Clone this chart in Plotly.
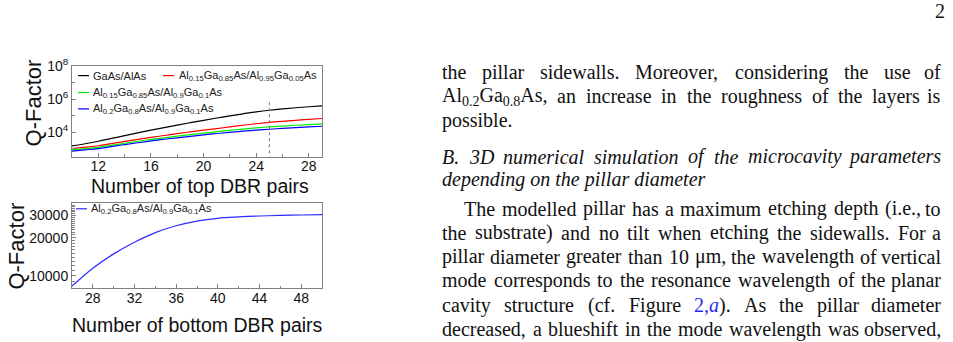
import re
import plotly.graph_objects as go

# ---------------- data ----------------
top_pairs = [10, 11, 12, 13, 14, 15, 16, 17, 18, 19, 20, 21, 22, 23, 24, 25, 26, 27, 28, 29]
q_gaas_alas = [1480, 2000, 2820, 4170, 6170, 9120, 13200, 19100, 26900, 38000,
               52500, 72400, 97700, 129000, 170000, 214000, 257000, 302000, 347000, 398000]
q_al015_al095 = [1020, 1230, 1510, 2040, 2750, 3630, 4790, 6310, 8130, 10500,
                 13200, 16600, 20900, 26300, 32400, 38900, 45700, 52500, 60300, 67600]
q_al015_al09 = [850, 1000, 1200, 1590, 2140, 2820, 3630, 4570, 5750, 7080,
                8710, 10700, 12900, 15500, 18200, 20900, 23400, 26300, 28800, 31600]
q_al02_al09 = [710, 850, 1020, 1350, 1780, 2290, 2950, 3720, 4570, 5620,
               6920, 8320, 9770, 11500, 13200, 15100, 17000, 19100, 20900, 22900]
marker_pair = 25
marker_q = [100, 1000000]

bottom_pairs = [26, 28, 30, 32, 34, 36, 38, 40, 42, 44, 46, 48, 50]
q_bottom = [8300, 11500, 14900, 18400, 21900, 24800, 27000, 28400, 29100, 29600, 29900, 30150, 30300]

top_xticks = [12, 16, 20, 24, 28]
top_xminor = [10, 14, 18, 22, 26]
top_yticks = [1e4, 1e6, 1e8]
top_yticktext = ["10<sup>4</sup>", "10<sup>6</sup>", "10<sup>8</sup>"]
top_yminor = [1e3, 1e5, 1e7]
bottom_xticks = [28, 32, 36, 40, 44, 48]
bottom_xminor = [26, 30, 34, 38, 42, 46, 50]
bottom_yticks = [10000, 20000, 30000]
bottom_yminor = [8000, 9000, 11000, 12000, 13000, 14000, 15000, 16000, 17000, 18000, 19000,
                 21000, 22000, 23000, 24000, 25000, 26000, 27000, 28000, 29000,
                 31000, 32000, 33000, 34000, 35000, 36000, 37000]

names_top = ["GaAs/AlAs",
             "Al<sub>0.15</sub>Ga<sub>0.85</sub>As/Al<sub>0.95</sub>Ga<sub>0.05</sub>As",
             "Al<sub>0.15</sub>Ga<sub>0.85</sub>As/Al<sub>0.9</sub>Ga<sub>0.1</sub>As",
             "Al<sub>0.2</sub>Ga<sub>0.8</sub>As/Al<sub>0.9</sub>Ga<sub>0.1</sub>As"]
colors_top = ["#000000", "#ff0000", "#00ee00", "#0000ff"]
name_bottom = "Al<sub>0.2</sub>Ga<sub>0.8</sub>As/Al<sub>0.9</sub>Ga<sub>0.1</sub>As"
color_bottom = "#2b2bff"

# page text
para1 = [("the pillar sidewalls. Moreover, considering the use of", True, 0),
         ("Al<sub>0.2</sub>Ga<sub>0.8</sub>As, an increase in the roughness of the layers is", True, 0),
         ("possible.", False, 0)]
heading = [("B. 3D numerical simulation of the microcavity parameters", True, 0),
           ("depending on the pillar diameter", False, 0)]
para2 = [("The modelled pillar has a maximum etching depth (i.e., to", True, 22),
         ("the substrate) and no tilt when etching the sidewalls. For a", True, 0),
         ("pillar diameter greater than 10 μm, the wavelength of vertical", True, 0),
         ("mode corresponds to the resonance wavelength of the planar", True, 0),
         ("cavity structure (cf. Figure <span style='color:#2a2aee'>2,<i>a</i></span>). As the pillar diameter", True, 0),
         ("decreased, a blueshift in the mode wavelength was observed,", True, 0)]

# ---------------- layout helpers ----------------
W, H = 953, 342
Y_OFF, Y_SPAN = 8.0, 334.0   # empirical vertical correction


def px(x):
    return x / W


def py(y):
    return 1 - (y - Y_OFF) / Y_SPAN


ROMAN = {' ': 250, 'a': 444, 'b': 500, 'c': 444, 'd': 500, 'e': 444, 'f': 333, 'g': 500, 'h': 500,
         'i': 278, 'j': 278, 'k': 500, 'l': 278, 'm': 778, 'n': 500, 'o': 500, 'p': 500, 'q': 500,
         'r': 333, 's': 389, 't': 278, 'u': 500, 'v': 500, 'w': 722, 'x': 500, 'y': 500, 'z': 444,
         'A': 722, 'B': 667, 'F': 556, 'G': 722, 'M': 889, 'T': 611, '(': 333, ')': 333, '.': 250,
         ',': 250, 'μ': 500}
ITALIC = {' ': 250, 'a': 500, 'b': 500, 'c': 444, 'd': 500, 'e': 444, 'f': 278, 'g': 500, 'h': 500,
          'i': 278, 'l': 278, 'm': 722, 'n': 500, 'o': 500, 'p': 500, 'r': 389, 's': 389, 't': 278,
          'u': 500, 'v': 444, 'y': 444, 'B': 611, 'D': 722, '.': 250}


def text_width(html, table, size):
    w = 0.0
    scale = 1.0
    for part in re.split(r'(<[^>]+>)', html):
        if part.startswith('<'):
            if part == '<sub>':
                scale = 0.7
            elif part == '</sub>':
                scale = 1.0
            continue
        for ch in part:
            w += table.get(ch, 500) * scale
    return w * size / 1000.0


TEXT_LEFT, TEXT_RIGHT = 441, 942
FS = 20
SERIF = dict(family="Liberation Serif", size=FS, color="#111111")
annotations = []


def add_text(x, y, txt, anchor):
    annotations.append(dict(x=px(x), y=py(y), xref="paper", yref="paper", text=txt, showarrow=False,
                            xanchor=anchor, yanchor="middle", borderpad=0, font=SERIF))


def place_lines(lines, ys, table, italic):
    for (line, justify, indent), y in zip(lines, ys):
        left = TEXT_LEFT + indent
        if not justify:
            add_text(left, y, "<i>" + line + "</i>" if italic else line, "left")
            continue
        words = re.split(r' (?![^<]*>)', line)
        widths = [text_width(wd, table, FS) for wd in words]
        gap = (TEXT_RIGHT - left - sum(widths)) / (len(words) - 1)
        x = left
        for i, (wd, ww) in enumerate(zip(words, widths)):
            txt = "<i>" + wd + "</i>" if italic else wd
            if i == len(words) - 1:
                add_text(TEXT_RIGHT, y, txt, "right")
            else:
                add_text(x, y, txt, "left")
            x += ww + gap


place_lines(para1, [70.5, 95, 119.5], ROMAN, False)
place_lines(heading, [155.5, 178.5], ITALIC, True)
place_lines(para2, [208, 232, 256, 280, 305, 329], ROMAN, False)

annotations.append(dict(x=px(940), y=py(9), xref="paper", yref="paper", text="2", showarrow=False,
                        xanchor="center", yanchor="middle", font=SERIF))

# ---------------- figure ----------------
fig = go.Figure()
for q, nm, col in zip([q_gaas_alas, q_al015_al095, q_al015_al09, q_al02_al09], names_top, colors_top):
    fig.add_trace(go.Scatter(x=top_pairs, y=q, mode="lines", name=nm,
                             line=dict(color=col, width=1.2, shape="spline"),
                             xaxis="x", yaxis="y", showlegend=False))
fig.add_trace(go.Scatter(x=[marker_pair, marker_pair], y=marker_q, mode="lines",
                         line=dict(color="#777777", width=1, dash="dot"), xaxis="x", yaxis="y", showlegend=False))
fig.add_trace(go.Scatter(x=bottom_pairs, y=q_bottom, mode="lines", name=name_bottom,
                         line=dict(color=color_bottom, width=1.2, shape="spline"),
                         xaxis="x2", yaxis="y2", showlegend=False))

AX = dict(showline=True, mirror=True, linecolor="#808080", linewidth=1, ticks="inside", ticklen=4,
          tickcolor="#808080", tickwidth=1, showgrid=False, zeroline=False,
          tickfont=dict(family="Liberation Sans", size=14, color="#111111"))
MINOR = dict(ticks="inside", ticklen=2.5, tickcolor="#808080", tickwidth=1, showgrid=False)

dom_x = [px(72), px(322)]
fig.update_layout(
    width=W, height=H, margin=dict(l=0, r=0, t=0, b=0),
    paper_bgcolor="white", plot_bgcolor="white", showlegend=False,
    xaxis=dict(domain=dom_x, anchor="y", range=[10, 29], tickmode="array", tickvals=top_xticks,
               ticklabelstandoff=-3,
               minor=dict(tickmode="array", tickvals=top_xminor, **MINOR), **AX),
    yaxis=dict(domain=[py(155.5), py(64.5)], anchor="x", type="log", range=[2.52, 8.0],
               tickmode="array", tickvals=top_yticks, ticktext=top_yticktext,
               minor=dict(tickmode="array", tickvals=top_yminor, **MINOR), **AX),
    xaxis2=dict(domain=dom_x, anchor="y2", range=[26, 50], tickmode="array", tickvals=bottom_xticks,
                ticklabelstandoff=-3,
                minor=dict(tickmode="array", tickvals=bottom_xminor, **MINOR), **AX),
    yaxis2=dict(domain=[py(288), py(202.5)], anchor="x2", type="log", range=[3.902, 4.571],
                tickmode="array", tickvals=bottom_yticks, ticktext=[str(v) for v in bottom_yticks],
                minor=dict(tickmode="array", tickvals=bottom_yminor, **MINOR), **AX),
)

# axis titles
title_font = dict(family="Liberation Sans", size=19.5, color="#111111")
ytitle_font = dict(family="Liberation Sans", size=22, color="#111111")
annotations += [
    dict(x=px(200), y=py(185), xref="paper", yref="paper", text="Number of top DBR pairs", showarrow=False,
         xanchor="center", yanchor="middle", font=title_font),
    dict(x=px(197), y=py(324.5), xref="paper", yref="paper", text="Number of bottom DBR pairs", showarrow=False,
         xanchor="center", yanchor="middle", font=title_font),
    dict(x=px(33), y=py(102), xref="paper", yref="paper", text="Q-Factor", showarrow=False, textangle=-90,
         xanchor="center", yanchor="middle", font=ytitle_font),
    dict(x=px(17), y=py(246), xref="paper", yref="paper", text="Q-Factor", showarrow=False, textangle=-90,
         xanchor="center", yanchor="middle", font=ytitle_font),
]

# custom legends (short sample line + label)
leg_font = dict(family="Liberation Sans", size=11, color="#222222")
legend_items = [  # (sample x0, x1, y, text x, name, color)
    (78, 89, 74, 92, names_top[0], colors_top[0]),
    (163, 174, 74, 178, names_top[1], colors_top[1]),
    (78, 89, 91, 92, names_top[2], colors_top[2]),
    (78, 89, 107.5, 92, names_top[3], colors_top[3]),
    (76, 87, 208, 90, name_bottom, color_bottom),
]
shapes = []
for x0, x1, y, tx, nm, col in legend_items:
    shapes.append(dict(type="line", xref="paper", yref="paper", x0=px(x0), x1=px(x1), y0=py(y), y1=py(y),
                       line=dict(color=col, width=1.2)))
    annotations.append(dict(x=px(tx), y=py(y), xref="paper", yref="paper", text=nm, showarrow=False,
                            xanchor="left", yanchor="middle", borderpad=0, font=leg_font))

fig.update_layout(annotations=annotations, shapes=shapes)
fig.write_html("out.html")
